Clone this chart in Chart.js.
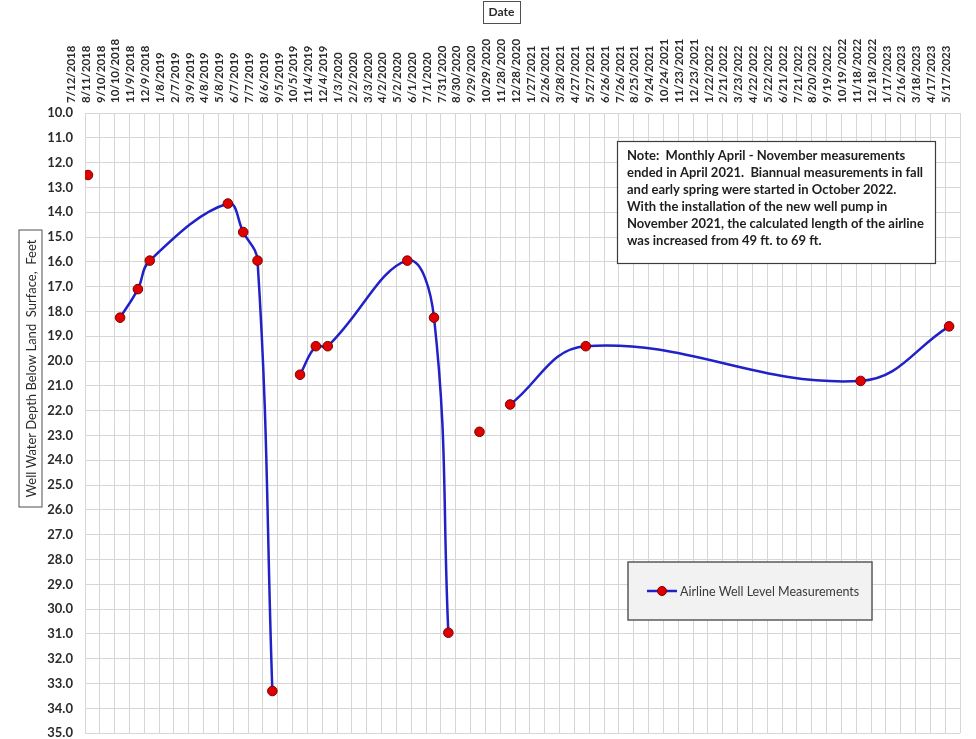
<!DOCTYPE html>
<html>
<head>
<meta charset="utf-8">
<title>Airline Well Level Measurements</title>
<script src="https://cdn.jsdelivr.net/npm/chart.js@4.4.0/dist/chart.umd.min.js"></script>
<style>
  html, body { margin: 0; padding: 0; background: #fff; overflow: hidden; }
  #wrap { width: 976px; height: 739px; }
</style>
</head>
<body>
<div id="wrap"><canvas id="well-chart" width="976" height="739"></canvas></div>
<script>
// date ticks along the top axis (every 30 days)
const tickLabels = [
  '7/12/2018', '8/11/2018', '9/10/2018', '10/10/2018', '11/9/2018', '12/9/2018',
  '1/8/2019', '2/7/2019', '3/9/2019', '4/8/2019', '5/8/2019', '6/7/2019', '7/7/2019',
  '8/6/2019', '9/5/2019', '10/5/2019', '11/4/2019', '12/4/2019',
  '1/3/2020', '2/2/2020', '3/3/2020', '4/2/2020', '5/2/2020', '6/1/2020', '7/1/2020',
  '7/31/2020', '8/30/2020', '9/29/2020', '10/29/2020', '11/28/2020', '12/28/2020',
  '1/27/2021', '2/26/2021', '3/28/2021', '4/27/2021', '5/27/2021', '6/26/2021',
  '7/26/2021', '8/25/2021', '9/24/2021', '10/24/2021', '11/23/2021', '12/23/2021',
  '1/22/2022', '2/21/2022', '3/23/2022', '4/22/2022', '5/22/2022', '6/21/2022',
  '7/21/2022', '8/20/2022', '9/19/2022', '10/19/2022', '11/18/2022', '12/18/2022',
  '1/17/2023', '2/16/2023', '3/18/2023', '4/17/2023', '5/17/2023'
];

// measurement dates and depth to water (feet below land surface)
const sampleDates = [
  '7/18/2018', '9/21/2018', '10/27/2018', '11/20/2018', '4/27/2019', '5/28/2019',
  '6/26/2019', '7/26/2019', '9/20/2019', '10/22/2019', '11/15/2019', '4/24/2020',
  '6/17/2020', '7/16/2020', '9/17/2020', '11/18/2020', '4/20/2021', '10/28/2022',
  '4/25/2023'
];
const depthFeet = [
  12.5, 18.25, 17.1, 15.95, 13.65, 14.8,
  15.95, 33.3, 20.55, 19.4, 19.4, 15.95,
  18.25, 30.95, 22.85, 21.75, 19.4, 20.8,
  18.6
];
// the line is not carried past these readings
const lineBreaks = ['7/18/2018', '7/26/2019', '7/16/2020', '9/17/2020'];

const yTicks = { min: 10, max: 35, step: 1 };

const noteLines = [
  'Note:  Monthly April - November measurements',
  'ended in April 2021.  Biannual measurements in fall',
  'and early spring were started in October 2022.',
  'With the installation of the new well pump in',
  'November 2021, the calculated length of the airline',
  'was increased from 49 ft. to 69 ft.'
];

const seriesName = 'Airline Well Level Measurements';
const xTitle = 'Date';
const yTitle = 'Well Water Depth Below Land  Surface,  Feet';

const lineColor = '#2121c8';
const markerFill = '#e00000';
const markerEdge = '#7a0000';
const gridColor = '#d6d6d6';
const textColor = '#2a2a2a';
const FONT = 'Lato, "Open Sans", sans-serif';

function dayOffset(str) {
  const [m, d, y] = str.split('/').map(Number);
  const [m0, d0, y0] = tickLabels[0].split('/').map(Number);
  return Math.round((Date.UTC(y, m - 1, d) - Date.UTC(y0, m0 - 1, d0)) / 86400000);
}

const points = [];
sampleDates.forEach((dt, i) => {
  const x = dayOffset(dt);
  points.push({ x: x, y: depthFeet[i] });
  if (lineBreaks.includes(dt)) points.push({ x: x + 1, y: null });
});

// boxed axis titles, the note and the legend
const boxesPlugin = {
  id: 'boxes',
  afterDraw(chart) {
    const c = chart.ctx;
    const a = chart.chartArea;
    c.save();

    // "Date" title
    c.font = 'bold 12px ' + FONT;
    c.fillStyle = textColor;
    c.textAlign = 'center';
    c.textBaseline = 'middle';
    c.fillText(xTitle, 501.5, 12.5);
    c.strokeStyle = '#505050';
    c.lineWidth = 1;
    c.strokeRect(483.5, 1.5, 37, 22);

    // y axis title, rotated
    c.save();
    c.translate(30.5, 368.5);
    c.rotate(-Math.PI / 2);
    c.font = '13px ' + FONT;
    c.fillText(yTitle, 0, 1);
    c.strokeRect(-138.5, -11.5, 277, 23);
    c.restore();

    // note box
    const nx = a.left + 532, ny = a.top + 28, nw = 318, nh = 122;
    c.fillStyle = '#fff';
    c.fillRect(nx, ny, nw, nh);
    c.strokeStyle = '#3c3c3c';
    c.lineWidth = 1.2;
    c.strokeRect(nx + 0.5, ny + 0.5, nw, nh);
    c.fillStyle = '#1e1e1e';
    c.font = 'bold 13px ' + FONT;
    c.textAlign = 'left';
    noteLines.forEach((ln, i) => c.fillText(ln, nx + 10, ny + 15 + i * 17));

    // legend box
    const lx = a.left + 543, ly = a.top + 449, lw = 244, lh = 58;
    c.fillStyle = '#f2f2f2';
    c.fillRect(lx, ly, lw, lh);
    c.strokeStyle = '#5a5a5a';
    c.lineWidth = 1.5;
    c.strokeRect(lx, ly, lw, lh);
    const my = ly + lh / 2;
    c.strokeStyle = lineColor;
    c.lineWidth = 2.5;
    c.beginPath();
    c.moveTo(lx + 19, my);
    c.lineTo(lx + 49, my);
    c.stroke();
    c.beginPath();
    c.arc(lx + 34, my, 4.5, 0, Math.PI * 2);
    c.fillStyle = markerFill;
    c.fill();
    c.strokeStyle = markerEdge;
    c.lineWidth = 1;
    c.stroke();
    c.fillStyle = '#3a3a3a';
    c.font = '12.5px ' + FONT;
    c.fillText(seriesName, lx + 52, my + 1);

    c.restore();
  }
};

const ctx = document.getElementById('well-chart').getContext('2d');
const wellChart = new Chart(ctx, {
  type: 'line',
  data: {
    datasets: [{
      label: seriesName,
      data: points,
      borderColor: lineColor,
      borderWidth: 2.5,
      tension: 0.4,
      spanGaps: false,
      pointRadius: 4.8,
      pointBackgroundColor: markerFill,
      pointBorderColor: markerEdge,
      pointBorderWidth: 1,
      fill: false
    }]
  },
  options: {
    responsive: false,
    animation: false,
    events: [],
    layout: { padding: { left: 0, top: 0, right: 16, bottom: 4 } },
    plugins: {
      legend: { display: false },
      title: { display: false },
      tooltip: { enabled: false }
    },
    scales: {
      x: {
        type: 'linear',
        position: 'top',
        min: 0,
        max: dayOffset(tickLabels[tickLabels.length - 1]),
        afterBuildTicks(scale) {
          scale.ticks = tickLabels.map(l => ({ value: dayOffset(l) }));
        },
        afterFit(scale) {
          scale.height = 113;
          scale.paddingLeft = 0;
          scale.paddingRight = 0;
        },
        grid: { color: gridColor, drawTicks: false },
        border: { color: gridColor },
        ticks: {
          autoSkip: false,
          minRotation: 90,
          maxRotation: 90,
          padding: 10,
          color: textColor,
          font: { family: FONT, size: 11.5, weight: 'bold' },
          callback: (v, i) => tickLabels[i]
        }
      },
      y: {
        type: 'linear',
        reverse: true,
        min: yTicks.min,
        max: yTicks.max,
        afterFit(scale) {
          scale.width = 85;
          scale.paddingTop = 0;
          scale.paddingBottom = 0;
        },
        grid: { color: gridColor, drawTicks: false },
        border: { color: gridColor },
        ticks: {
          stepSize: yTicks.step,
          padding: 12,
          color: textColor,
          font: { family: FONT, size: 13, weight: 'bold' },
          callback: v => v.toFixed(1)
        }
      }
    }
  },
  plugins: [boxesPlugin]
});
</script>
</body>
</html>
